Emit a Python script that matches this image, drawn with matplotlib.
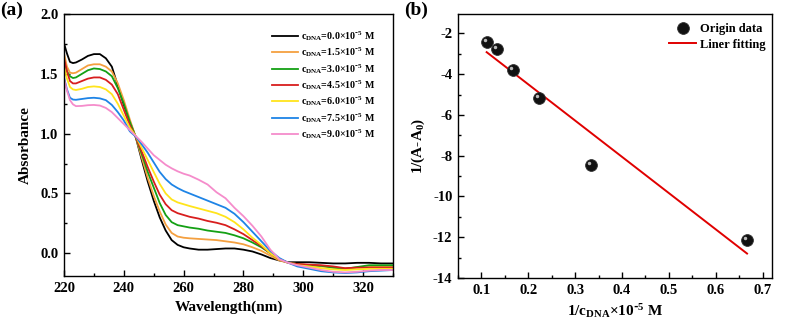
import numpy as np
import matplotlib
matplotlib.use("Agg")
import matplotlib.pyplot as plt
import matplotlib.transforms as mtransforms
from matplotlib.ticker import MultipleLocator, AutoMinorLocator

plt.rcParams['font.family'] = ['Liberation Serif', 'DejaVu Serif']
plt.rcParams['font.weight'] = 'bold'
plt.rcParams['axes.labelweight'] = 'bold'
plt.rcParams['mathtext.default'] = 'regular'
plt.rcParams['axes.unicode_minus'] = False

# ---- (a) UV-vis spectra ----
wavelength = [220, 221, 222, 223, 224, 226, 228, 230, 232, 234, 236, 238, 240, 242, 244,
              246, 248, 250, 252, 254, 256, 258, 260, 262, 265, 268, 271, 274, 277, 280,
              283, 286, 289, 292, 295, 298, 302, 306, 310, 314, 318, 322, 326, 330]

abs_00 = [1.755, 1.67, 1.60, 1.59, 1.595, 1.62, 1.65, 1.665, 1.665, 1.63, 1.56, 1.40, 1.24, 1.10, 0.97,
          0.78, 0.60, 0.44, 0.30, 0.19, 0.11, 0.07, 0.05, 0.04, 0.03, 0.03, 0.035, 0.04, 0.04, 0.03,
          0.015, -0.01, -0.04, -0.06, -0.075, -0.075, -0.075, -0.08, -0.085, -0.085, -0.08, -0.08, -0.085, -0.085]
abs_15 = [1.67, 1.56, 1.51, 1.505, 1.51, 1.54, 1.57, 1.58, 1.58, 1.56, 1.52, 1.42, 1.28, 1.12, 0.97,
          0.80, 0.63, 0.48, 0.35, 0.24, 0.17, 0.14, 0.13, 0.125, 0.12, 0.115, 0.11, 0.10, 0.09, 0.075,
          0.05, 0.02, -0.02, -0.06, -0.08, -0.09, -0.10, -0.11, -0.12, -0.125, -0.12, -0.115, -0.11, -0.11]
abs_30 = [1.60, 1.52, 1.48, 1.465, 1.47, 1.50, 1.53, 1.545, 1.54, 1.52, 1.48, 1.38, 1.25, 1.10, 0.97,
          0.83, 0.68, 0.55, 0.42, 0.32, 0.26, 0.235, 0.225, 0.215, 0.205, 0.19, 0.18, 0.17, 0.15, 0.125,
          0.09, 0.05, 0.0, -0.05, -0.08, -0.09, -0.10, -0.105, -0.12, -0.13, -0.115, -0.10, -0.10, -0.10]
abs_45 = [1.63, 1.52, 1.44, 1.42, 1.42, 1.44, 1.46, 1.47, 1.47, 1.45, 1.41, 1.33, 1.20, 1.07, 0.97,
          0.85, 0.72, 0.60, 0.49, 0.41, 0.36, 0.335, 0.32, 0.305, 0.29, 0.27, 0.255, 0.235, 0.20, 0.16,
          0.11, 0.06, 0.0, -0.05, -0.08, -0.09, -0.095, -0.10, -0.11, -0.125, -0.12, -0.12, -0.12, -0.12]
abs_60 = [1.56, 1.46, 1.39, 1.37, 1.365, 1.375, 1.39, 1.395, 1.39, 1.37, 1.33, 1.25, 1.15, 1.05, 0.98,
          0.88, 0.78, 0.68, 0.58, 0.50, 0.45, 0.425, 0.41, 0.395, 0.375, 0.355, 0.335, 0.305, 0.26, 0.20,
          0.13, 0.07, 0.0, -0.05, -0.08, -0.10, -0.11, -0.125, -0.135, -0.14, -0.135, -0.13, -0.13, -0.13]
abs_75 = [1.47, 1.37, 1.30, 1.285, 1.283, 1.29, 1.297, 1.30, 1.295, 1.28, 1.24, 1.18, 1.11, 1.02, 0.975,
          0.91, 0.84, 0.76, 0.68, 0.62, 0.575, 0.545, 0.52, 0.50, 0.47, 0.44, 0.41, 0.38, 0.33, 0.26,
          0.18, 0.10, 0.02, -0.04, -0.08, -0.11, -0.13, -0.15, -0.16, -0.165, -0.16, -0.15, -0.145, -0.14]
abs_90 = [1.46, 1.36, 1.28, 1.245, 1.23, 1.232, 1.238, 1.24, 1.235, 1.215, 1.18, 1.13, 1.08, 1.03, 0.98,
          0.93, 0.875, 0.82, 0.78, 0.74, 0.71, 0.685, 0.665, 0.65, 0.615, 0.575, 0.51, 0.46, 0.38, 0.31,
          0.23, 0.14, 0.03, -0.05, -0.08, -0.10, -0.12, -0.14, -0.155, -0.16, -0.155, -0.145, -0.14, -0.14]

spectra = [abs_00, abs_15, abs_30, abs_45, abs_60, abs_75, abs_90]
conc_labels = ['0.0', '1.5', '3.0', '4.5', '6.0', '7.5', '9.0']
colors = ['#000000', '#F4A040', '#14A014', '#D81E1E', '#FFE41C', '#1E84E6', '#F58CCB']

# ---- (b) double reciprocal plot ----
inv_conc = [1 / 9.0, 1 / 7.5, 1 / 6.0, 1 / 4.5, 1 / 3.0, 1 / 1.5]
inv_dA = [-2.4, -2.75, -3.8, -5.15, -8.45, -12.15]

fig = plt.figure(figsize=(7.89, 3.25), dpi=100)
ax1 = fig.add_axes([0.0811, 0.1508, 0.417, 0.806])
ax2 = fig.add_axes([0.5805, 0.1446, 0.398, 0.812])

for y, c, lab in zip(spectra, colors, conc_labels):
    ax1.plot(wavelength, y, color=c, lw=1.3,
             label=r'$c_{DNA}$=' + lab + r'×10$^{\text{-}5}$ M')

ax1.set_xlim(220, 330)
ax1.set_ylim(-0.19, 2.0)
ax1.xaxis.set_major_locator(MultipleLocator(20))
ax1.yaxis.set_major_locator(MultipleLocator(0.5))
ax1.yaxis.set_major_formatter(matplotlib.ticker.FormatStrFormatter('%.1f'))
ax1.set_xlabel('Wavelength(nm)', fontsize=11, labelpad=4)
ax1.set_ylabel('Absorbance', fontsize=11, labelpad=6)
ax1.legend(loc='upper right', frameon=False, fontsize=7.2, handlelength=2.6,
           handletextpad=0.3, labelspacing=0.25, borderaxespad=0.3,
           bbox_to_anchor=(0.967, 0.97))

# fitted line from the data
k, b = np.polyfit(inv_conc, inv_dA, 1)
xfit = np.array([min(inv_conc), max(inv_conc)])
ax2.plot(xfit, k * xfit + b, color='#E00000', lw=1.4, label='Liner fitting', zorder=2)
ax2.plot(inv_conc, inv_dA, 'o', ms=8.5, color='#111111', mec='#333333', mew=0.6,
         label='Origin data', zorder=3)
# little highlight to mimic shaded spheres
shift = mtransforms.ScaledTranslation(-1.5 / 72, 1.5 / 72, fig.dpi_scale_trans)
ax2.plot(inv_conc, inv_dA, 'o', ms=2.5, color='#bbbbbb', mew=0,
         transform=ax2.transData + shift, zorder=4)

ax2.set_xlim(0.05, 0.72)
ax2.set_ylim(-14, -1.05)
ax2.xaxis.set_major_locator(MultipleLocator(0.1))
ax2.yaxis.set_major_locator(MultipleLocator(2))
ax2.xaxis.set_major_formatter(matplotlib.ticker.FormatStrFormatter('%.1f'))
ax2.set_xlabel(r'1/$c_{DNA}$×10$^{\text{-}5}$ M', fontsize=11, labelpad=4)
ax2.set_ylabel(r'1/(A-A$_0$)', fontsize=11, labelpad=4)
h, l = ax2.get_legend_handles_labels()
ax2.legend(h[::-1], l[::-1], loc='upper right', frameon=False, fontsize=9,
           handlelength=2.2, handletextpad=0.3, labelspacing=0.3,
           borderaxespad=0.1, bbox_to_anchor=(1.0, 0.99))

for ax in (ax1, ax2):
    ax.xaxis.set_minor_locator(AutoMinorLocator(2))
    ax.yaxis.set_minor_locator(AutoMinorLocator(2))
    ax.tick_params(which='major', direction='in', length=4, width=1, labelsize=10.5, pad=4)
    ax.tick_params(which='minor', direction='in', length=2, width=1)
    ax.tick_params(top=False, right=False, which='both')
    for s in ax.spines.values():
        s.set_linewidth(1.0)

fig.text(0.0, 0.995, '(a)', fontsize=14, fontweight='bold', va='top', ha='left')
fig.text(0.512, 0.995, '(b)', fontsize=14, fontweight='bold', va='top', ha='left')

fig.savefig('out.png', dpi=100)
